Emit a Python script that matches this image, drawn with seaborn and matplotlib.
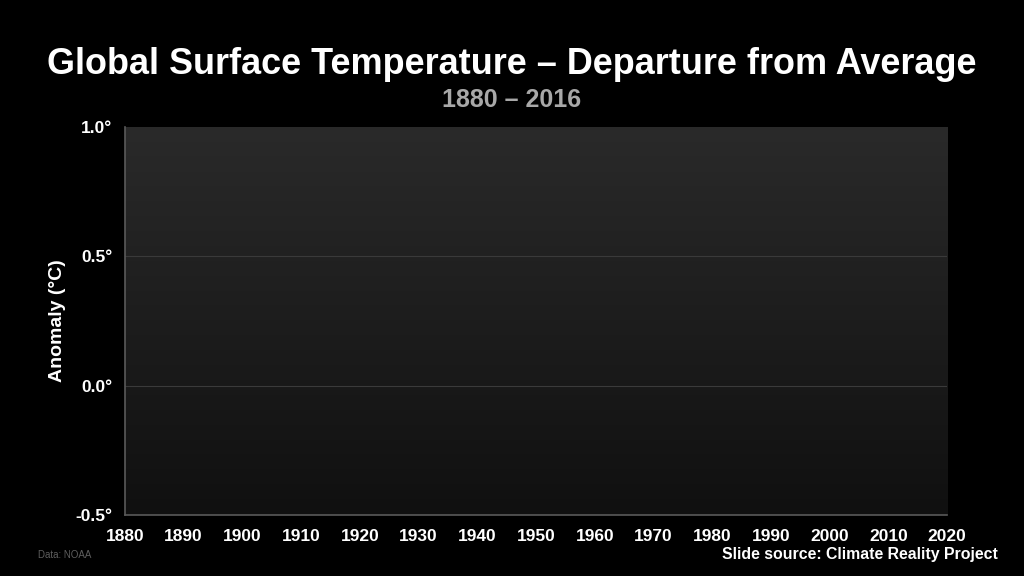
import numpy as np
import pandas as pd
import seaborn as sns
import matplotlib.pyplot as plt
from matplotlib.colors import LinearSegmentedColormap

# axis ticks (chart has no data plotted yet)
years = [1880, 1890, 1900, 1910, 1920, 1930, 1940, 1950, 1960, 1970, 1980, 1990, 2000, 2010, 2020]
anomaly_ticks = [-0.5, 0.0, 0.5, 1.0]
anomaly_labels = ["-0.5°", "0.0°", "0.5°", "1.0°"]

sns.set_theme(style="dark")
plt.rcParams['font.family'] = ['Liberation Sans', 'DejaVu Sans']

fig = plt.figure(figsize=(10.24, 5.76), dpi=100, facecolor="black")
ax = fig.add_axes([0.122, 0.106, 0.803, 0.674])

df = pd.DataFrame({"year": pd.Series([], dtype=float), "anomaly": pd.Series([], dtype=float)})
sns.lineplot(data=df, x="year", y="anomaly", ax=ax)

ax.set_xlim(years[0], years[-1])
ax.set_ylim(anomaly_ticks[0], anomaly_ticks[-1])

# gradient background, lighter at the top
grad = np.linspace(0, 1, 256).reshape(-1, 1)
bg = LinearSegmentedColormap.from_list("bg", ["#2a2a2a", "#101010"])
ax.imshow(grad, aspect="auto", cmap=bg, extent=[0, 1, 0, 1], transform=ax.transAxes, zorder=0)

for v in [0.0, 0.5]:
    ax.axhline(v, color="#3a3a3a", lw=0.8, zorder=1)

ax.set_xticks(years)
ax.set_xticklabels([str(y) for y in years], color="white", fontsize=12.5, fontweight="bold")
ax.set_yticks(anomaly_ticks)
ax.set_yticklabels(anomaly_labels, color="white", fontsize=12.5, fontweight="bold")
ax.tick_params(axis="x", length=0, pad=10)
ax.tick_params(axis="y", length=0, pad=9)
ax.grid(False)

for s in ["top", "right"]:
    ax.spines[s].set_visible(False)
ax.spines["left"].set_color("#5a5a5a")
ax.spines["bottom"].set_color("#5a5a5a")
ax.spines["left"].set_linewidth(1.2)
ax.spines["bottom"].set_linewidth(1.2)

ax.set_xlabel("")
ax.set_ylabel("Anomaly (°C)", color="white", fontsize=14, fontweight="bold", labelpad=7)

fig.text(0.5, 0.888, "Global Surface Temperature – Departure from Average", color="white",
         fontsize=25.9, fontweight="bold", ha="center", va="center")
fig.text(0.5, 0.826, "1880 – 2016", color="#a8a8a8", fontsize=18, fontweight="bold", ha="center", va="center")
fig.text(0.037, 0.037, "Data: NOAA", color="#5e5e5e", fontsize=7, ha="left", va="center")
fig.text(0.974, 0.038, "Slide source: Climate Reality Project", color="white", fontsize=11.4,
         fontweight="bold", ha="right", va="center")

fig.savefig("out.png", dpi=100, facecolor="black")
